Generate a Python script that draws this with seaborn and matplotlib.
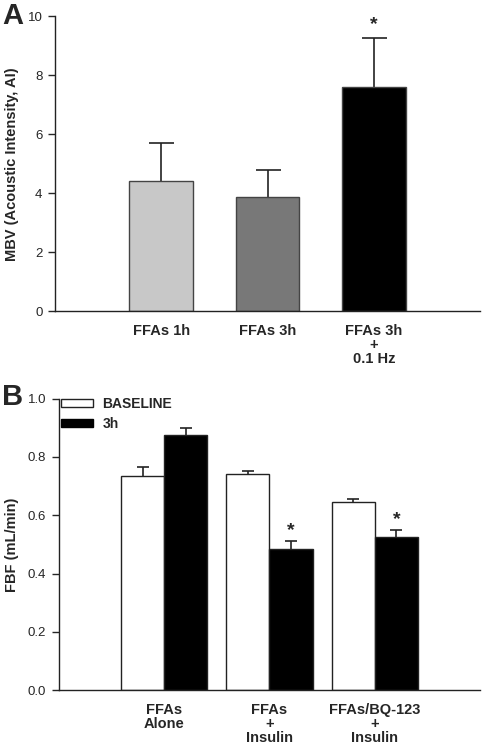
import numpy as np
import pandas as pd
import matplotlib
matplotlib.use("Agg")
import matplotlib.pyplot as plt
import seaborn as sns
from matplotlib.patches import Patch

sns.set_theme(style="ticks")
plt.rcParams['font.family'] = ['Liberation Sans', 'DejaVu Sans']

# Panel A data
a_labels = ['FFAs 1h', 'FFAs 3h', 'FFAs 3h\n+\n0.1 Hz']
a_means = [4.4, 3.87, 7.6]
a_sem = [1.3, 0.93, 1.67]
a_colors = ['#c8c8c8', '#787878', '#000000']

# Panel B data
b_groups = ['FFAs\nAlone', 'FFAs\n+\nInsulin', 'FFAs/BQ-123\n+\nInsulin']
b_conditions = ['BASELINE', '3h']
b_baseline = [0.735, 0.740, 0.644]
b_baseline_sem = [0.032, 0.013, 0.013]
b_3h = [0.876, 0.485, 0.526]
b_3h_sem = [0.024, 0.026, 0.023]
b_star = [False, True, True]

fig = plt.figure(figsize=(4.82, 7.46), dpi=100)
axA = fig.add_axes([0.114, 0.583, 0.882, 0.395])
axB = fig.add_axes([0.122, 0.075, 0.874, 0.3905])

def style_axis(ax):
    for s in ['top', 'right']:
        ax.spines[s].set_visible(False)
    for s in ['left', 'bottom']:
        ax.spines[s].set_linewidth(1.0)
        ax.spines[s].set_color('#222222')
    ax.tick_params(axis='y', direction='out', length=5, width=1, labelsize=9.5, pad=4)
    ax.tick_params(axis='x', length=0, labelsize=10.5, pad=9)
    for t in ax.get_xticklabels():
        t.set_fontweight('bold')
        t.set_linespacing(1.0)
    ax.set_xlabel('')

# ---- Panel A ----
dfA = pd.DataFrame({'group': a_labels, 'value': a_means})
sns.barplot(data=dfA, x='group', y='value', hue='group', palette=a_colors,
            width=0.6, errorbar=None, legend=False, ax=axA,
            edgecolor='#444444', linewidth=1.0)
centersA = [p.get_x() + p.get_width() / 2 for p in axA.patches]
# symmetric bars drawn under the bars so only the upper half shows
axA.errorbar(centersA, a_means, yerr=a_sem, fmt='none',
             ecolor='#222222', elinewidth=1.2, capsize=9, capthick=1.2, zorder=0.5)
axA.text(centersA[2], a_means[2] + a_sem[2] + 0.15, '*', ha='center', va='bottom',
         fontsize=14, fontweight='bold')
axA.set_xlim(-1, 3)
axA.set_ylim(0, 10)
axA.set_yticks([0, 2, 4, 6, 8, 10])
axA.set_ylabel('MBV (Acoustic Intensity, AI)', fontsize=10.5, fontweight='bold')
axA.yaxis.set_label_coords(-0.085, 0.5)
style_axis(axA)

# ---- Panel B ----
dfB = pd.DataFrame({
    'group': b_groups * 2,
    'condition': [b_conditions[0]] * 3 + [b_conditions[1]] * 3,
    'value': b_baseline + b_3h,
})
sns.barplot(data=dfB, x='group', y='value', hue='condition', hue_order=b_conditions,
            palette=['white', 'black'], width=0.82, gap=0, errorbar=None,
            legend=False, ax=axB, edgecolor='#222222', linewidth=1.0)
patchesB = axB.patches[:6]
c_base = [p.get_x() + p.get_width() / 2 for p in patchesB[:3]]
c_3h = [p.get_x() + p.get_width() / 2 for p in patchesB[3:6]]
axB.errorbar(c_base, b_baseline, yerr=b_baseline_sem, fmt='none',
             ecolor='#222222', elinewidth=1.2, capsize=4, capthick=1.2, zorder=0.5)
axB.errorbar(c_3h, b_3h, yerr=b_3h_sem, fmt='none',
             ecolor='#222222', elinewidth=1.2, capsize=4, capthick=1.2, zorder=0.5)
for x, v, e, s in zip(c_3h, b_3h, b_3h_sem, b_star):
    if s:
        axB.text(x, v + e + 0.008, '*', ha='center', va='bottom',
                 fontsize=14, fontweight='bold')
axB.set_xlim(-1, 3)
axB.set_ylim(0, 1.0)
axB.set_yticks([0.0, 0.2, 0.4, 0.6, 0.8, 1.0])
axB.set_yticklabels(['0.0', '0.2', '0.4', '0.6', '0.8', '1.0'])
axB.set_ylabel('FBF (mL/min)', fontsize=10.5, fontweight='bold')
axB.yaxis.set_label_coords(-0.095, 0.5)
style_axis(axB)

handles = [Patch(facecolor='white', edgecolor='#222222', linewidth=1.0),
           Patch(facecolor='black', edgecolor='black', linewidth=1.0)]
leg = axB.legend(handles, b_conditions, loc='upper left', bbox_to_anchor=(-0.025, 1.05),
                 frameon=False, handlelength=2.3, handleheight=0.55,
                 labelspacing=0.45, handletextpad=0.7,
                 prop={'weight': 'bold', 'size': 10})

fig.text(0.005, 0.978, 'A', fontsize=21, fontweight='bold', va='center', ha='left')
fig.text(0.005, 0.468, 'B', fontsize=21, fontweight='bold', va='center', ha='left')

fig.savefig('out.png', dpi=100)
